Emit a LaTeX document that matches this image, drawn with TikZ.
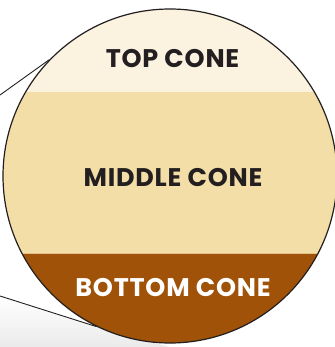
\documentclass[tikz,border=0pt]{standalone}
\usepackage{fontspec}
\setmainfont{Poppins}
\usetikzlibrary{calc}
\definecolor{conetop}{HTML}{FBF2DF}
\definecolor{conemid}{HTML}{F4DEA7}
\definecolor{conebot}{HTML}{9F5208}
\definecolor{coneink}{HTML}{231F20}

\begin{document}
\begin{tikzpicture}[x=1pt, y=-1pt,
    layer/.style={font=\bfseries\fontsize{25.5}{25.5}\selectfont\addfontfeature{LetterSpace=3}, text=coneink, inner sep=0pt, anchor=base},
    lens/.style={draw=coneink, circle, line width=1.2pt, minimum size=334pt, inner sep=0pt},
    edge/.style={draw=coneink, line width=0.9pt},
]
\useasboundingbox (0,0) rectangle (334,347);

% soft shadow, lower left
\shade[top color=white, bottom color=black!8] (0,296) -- (97,327) -- (170,347) -- (0,347) -- cycle;

% the three bands
\begin{scope}
  \clip (170,176) circle (167pt);
  \fill[conetop] (0,0) rectangle (340,92);
  \fill[conemid] (0,92) rectangle (340,253);
  \fill[conebot] (0,253) rectangle (340,347);
  \draw[conemid!80!conebot, line width=0.6pt] (0,253) -- (340,253);
\end{scope}
\node[lens] (cone) at (170,176) {};

% labels
\node[layer] (top) at (172.5,68) {TOP CONE};
\node[layer] (middle) at (173,186) {MIDDLE CONE};
\node[layer, text=white] (bottom) at (173,296) {BOTTOM CONE};

% lines out to the left
\coordinate (upper) at (0,95);
\coordinate (lower) at (0,296);
\draw[edge] (upper) -- (cone.136);
\draw[edge] (lower) -- (cone.244);

\end{tikzpicture}
\end{document}
